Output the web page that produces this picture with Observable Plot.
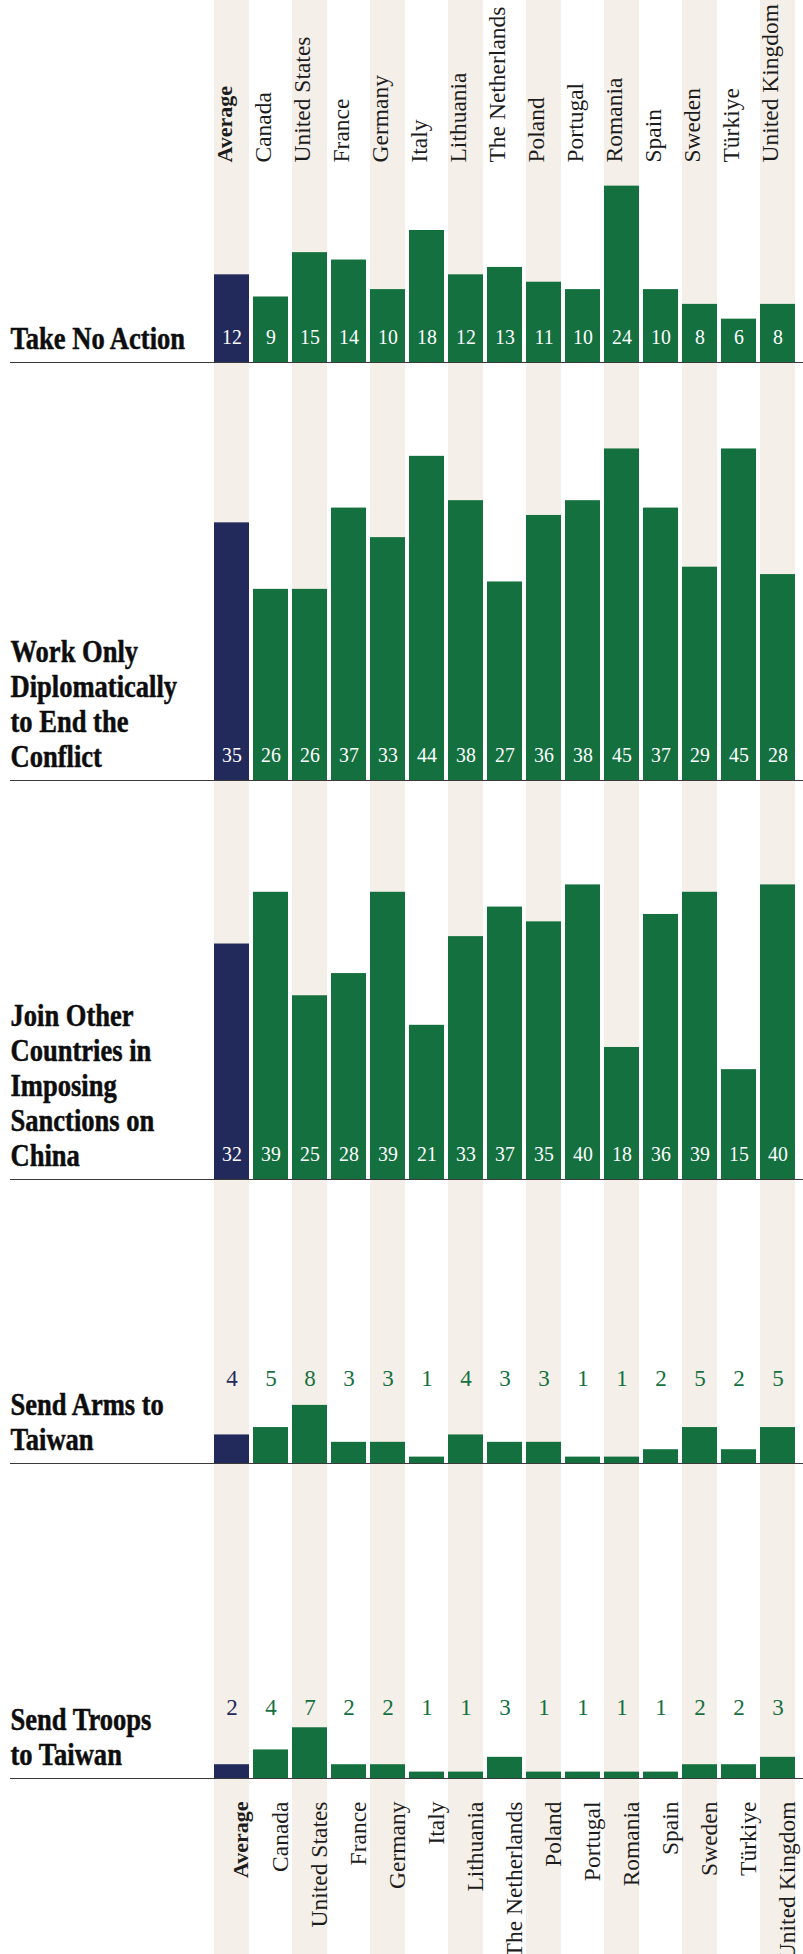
<!DOCTYPE html>
<html>
<head>
<meta charset="utf-8">
<script src="https://cdn.jsdelivr.net/npm/d3@7"></script>
<script src="https://cdn.jsdelivr.net/npm/@observablehq/plot@0.6"></script>
<style>
  html, body { margin: 0; padding: 0; background: #fff; overflow: hidden; width: 803px; }
  #chart { line-height: 0; }
  #chart svg { display: block; }
</style>
</head>
<body>
<div id="chart"></div>
<script>
// ---- Data ----
const countries = ["Average", "Canada", "United States", "France", "Germany", "Italy", "Lithuania",
  "The Netherlands", "Poland", "Portugal", "Romania", "Spain", "Sweden", "Türkiye", "United Kingdom"];

const takeNoAction       = [12, 9, 15, 14, 10, 18, 12, 13, 11, 10, 24, 10, 8, 6, 8];
const workDiplomatically = [35, 26, 26, 37, 33, 44, 38, 27, 36, 38, 45, 37, 29, 45, 28];
const joinSanctions      = [32, 39, 25, 28, 39, 21, 33, 37, 35, 40, 18, 36, 39, 15, 40];
const sendArms           = [4, 5, 8, 3, 3, 1, 4, 3, 3, 1, 1, 2, 5, 2, 5];
const sendTroops         = [2, 4, 7, 2, 2, 1, 1, 3, 1, 1, 1, 1, 2, 2, 3];

const panelTitles = [
  "Take No Action",
  "Work Only\nDiplomatically\nto End the\nConflict",
  "Join Other\nCountries in\nImposing\nSanctions on\nChina",
  "Send Arms to\nTaiwan",
  "Send Troops\nto Taiwan"
];
const panelSeries = [takeNoAction, workDiplomatically, joinSanctions, sendArms, sendTroops];

// ---- Style / layout ----
const NAVY = "#222a5c", GREEN = "#14703f", BEIGE = "#f4efe8", INK = "#1c1c1c", AXIS = "#3a3a3a";
const FONT = "'Liberation Serif', 'Times New Roman', serif";
const PX_PER_UNIT = 7.39;
const W = 803;
const panelHeights = [193, 418, 399, 284, 315];
const labelInside = [true, true, true, false, false];
const labelAbove = [0, 0, 0, 71, 57.5]; // px above baseline for outside labels
const headerHeight = 170, footerHeight = 175;

const stripes = countries.filter((d, i) => i % 2 === 0);
const colorOf = c => c === "Average" ? NAVY : GREEN;

const xOpts = {type: "band", domain: countries, range: [214, 805], paddingInner: 0.092, paddingOuter: 0, align: 0, axis: null};

function condenseText(svg, test, s) {
  svg.querySelectorAll("text").forEach(t => {
    if (test(t.textContent)) {
      t.setAttribute("transform", (t.getAttribute("transform") || "") + ` scale(${s},1)`);
    }
  });
}

const root = document.getElementById("chart");

function base(height, marks, extra = {}) {
  return Plot.plot({
    width: W, height,
    marginTop: 0, marginBottom: 0, marginLeft: 10, marginRight: 0,
    x: xOpts,
    style: {fontFamily: FONT, background: "white", overflow: "hidden"},
    marks,
    ...extra
  });
}

// Country label rows (top and bottom)
const labelMarks = (anchor) => {
  const isTop = anchor === "top";
  const common = {
    x: d => d, text: d => d, rotate: -90, fill: INK,
    frameAnchor: isTop ? "bottom" : "top",
    dy: isTop ? -8 : 22,
    textAnchor: isTop ? "start" : "end"
  };
  return [
    Plot.cell(stripes, {x: d => d, fill: BEIGE, inset: 0}),
    Plot.text(countries.filter(d => d !== "Average"), {...common, fontSize: 23.5}),
    Plot.text(["Average"], {...common, fontSize: 22, fontWeight: "bold"})
  ];
};

root.appendChild(base(headerHeight, labelMarks("top")));

// Panels
panelSeries.forEach((vals, p) => {
  const H = panelHeights[p];
  const data = countries.map((c, i) => ({country: c, value: vals[i]}));
  const marks = [
    Plot.cell(stripes, {x: d => d, fill: BEIGE, inset: 0}),
    Plot.barY(data, {x: "country", y: "value", fill: d => colorOf(d.country), inset: 0}),
    Plot.ruleY([0], {stroke: AXIS, strokeWidth: 1.5, dy: -0.75}),
    Plot.text([panelTitles[p]], {
      text: d => d, frameAnchor: "bottom-left", textAnchor: "start", lineAnchor: "bottom",
      fontSize: 32, fontWeight: "bold", lineHeight: 35 / 32, fill: "#0d0d0d",
      stroke: "#0d0d0d", strokeWidth: 0.5, dy: -15
    })
  ];
  if (labelInside[p]) {
    marks.push(Plot.text(data, {
      x: "country", text: d => String(d.value), frameAnchor: "bottom",
      fill: "white", fontSize: 22, dy: -20
    }));
  } else {
    marks.push(Plot.text(data, {
      x: "country", text: d => String(d.value), frameAnchor: "bottom",
      fill: d => colorOf(d.country), fontSize: 23, dy: -labelAbove[p] - 7.4
    }));
  }
  const svg = base(H, marks, {y: {domain: [0, H / PX_PER_UNIT], axis: null}});
  const titleKey = panelTitles[p].replace(/\s/g, "");
  condenseText(svg, s => s.replace(/\s/g, "") === titleKey, 0.83);
  if (labelInside[p]) condenseText(svg, s => /^\d+$/.test(s), 0.9);
  root.appendChild(svg);
});

// Footer
root.appendChild(base(footerHeight, labelMarks("bottom")));
</script>
</body>
</html>
